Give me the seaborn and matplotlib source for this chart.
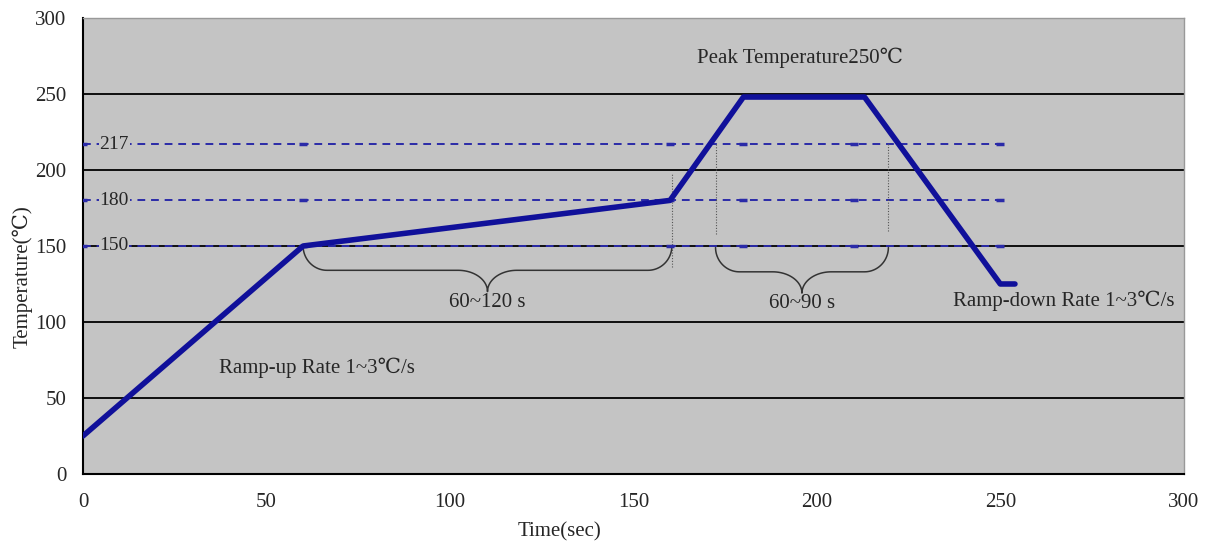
import numpy as np
import pandas as pd
import matplotlib.pyplot as plt
import seaborn as sns

# reflow profile
time_s = [0, 60, 160, 180, 213, 250, 254]
temp_c = [25, 150, 180, 248, 248, 125, 125]

ref_levels = [150, 180, 217]
ref_labels = ["150", "180", "217"]
ref_marks_x = [0, 60, 160, 180, 210, 250]
ref_end_x = 252

# braces: (start, end, top, label)
brace_spans = [(60, 160.5, 150, "60~120 s"), (172.4, 219.5, 149, "60~90 s")]
guide_x = [160.5, 172.4, 219.5]
guide_top = [198, 218, 218]
guide_bot = [136, 158, 160]

sns.set_style("white")
plt.rcParams["font.family"] = ["Liberation Serif", "DejaVu Serif"]

fig = plt.figure(figsize=(12.11, 5.42), dpi=100)
ax = fig.add_axes([0.0685, 0.1255, 0.909, 0.8413])
ax.set_facecolor("#c4c4c4")

# black gridlines
for y in [50, 100, 150, 200, 250]:
    ax.axhline(y, color="black", lw=1.3, zorder=1)

# dashed reference lines
for lvl, lab in zip(ref_levels, ref_labels):
    ax.hlines(lvl, 0, ref_end_x, colors="#2a2aa8", linestyles=(0, (4, 3)), lw=1.4, zorder=2)
    ax.text(4.5, lvl, lab, fontsize=14, va="center", ha="left", zorder=3,
            bbox=dict(facecolor="#c4c4c4", edgecolor="none", pad=0.5))
marks = pd.DataFrame([(x, l) for l in ref_levels for x in ref_marks_x], columns=["x", "y"])
sns.scatterplot(data=marks, x="x", y="y", marker="_", s=40, color="#2a2aa8",
                linewidth=2.5, ax=ax, zorder=3, legend=False)

# thin dotted guides
for gx, gt, gb in zip(guide_x, guide_top, guide_bot):
    ax.vlines(gx, gb, gt, colors="#555555", linestyles=(0, (1, 1.5)), lw=0.8, zorder=2)


def brace(x0, x1, top, rx=6.5, dy=16.0, rm=8.0, tip=14.0, n=25):
    mid = (x0 + x1) / 2
    y1 = top - dy
    t = np.linspace(0, np.pi / 2, n)
    # left end: vertical -> horizontal
    lx = x0 + rx * (1 - np.cos(t))
    ly = top - dy * np.sin(t)
    # middle tip, left half: horizontal -> vertical down
    mlx = mid - rm + rm * np.sin(t)
    mly = y1 - tip + tip * np.cos(t)
    # right half mirrors
    mrx = (2 * mid - mlx)[::-1]
    mry = mly[::-1]
    rx_ = (x1 - (lx - x0))[::-1]
    ry_ = ly[::-1]
    xs = np.concatenate([lx, mlx, mrx, rx_])
    ys = np.concatenate([ly, mly, mry, ry_])
    ax.plot(xs, ys, color="#333333", lw=1.1, zorder=2)
    return mid, y1 - tip


for x0, x1, top, lab in brace_spans:
    mid, bottom = brace(x0, x1, top)
    ax.text(mid, bottom - 7, lab, fontsize=15, ha="center", va="center", zorder=3)

# profile
prof = pd.DataFrame({"t": time_s, "T": temp_c})
sns.lineplot(data=prof, x="t", y="T", sort=False, color="#10109a", lw=4, ax=ax, zorder=4)

ax.text(195.5, 274, "Peak Temperature250℃", fontsize=15, ha="center", va="center")
ax.text(37, 70, "Ramp-up Rate 1~3℃/s", fontsize=15, ha="left", va="center")
ax.text(237, 114, "Ramp-down Rate 1~3℃/s", fontsize=15, ha="left", va="center")

ax.set_xlim(0, 300)
ax.set_ylim(0, 300)
ax.set_xticks(range(0, 301, 50))
ax.set_yticks(range(0, 301, 50))
ax.tick_params(axis="x", direction="in", length=5, width=1, pad=14, labelsize=15)
ax.tick_params(axis="y", length=0, pad=12, labelsize=15)
ax.set_xlabel("Time(sec)", fontsize=15, va="center")
ax.set_ylabel("Temperature(℃)", fontsize=15, va="center")
ax.xaxis.set_label_coords(0.433, -0.127)
ax.yaxis.set_label_coords(-0.055, 0.432)
for side in ["left", "bottom"]:
    ax.spines[side].set_color("black")
    ax.spines[side].set_linewidth(1.5)
for side in ["top", "right"]:
    ax.spines[side].set_color("#999999")
    ax.spines[side].set_linewidth(1)

plt.savefig("out.png", dpi=100)
